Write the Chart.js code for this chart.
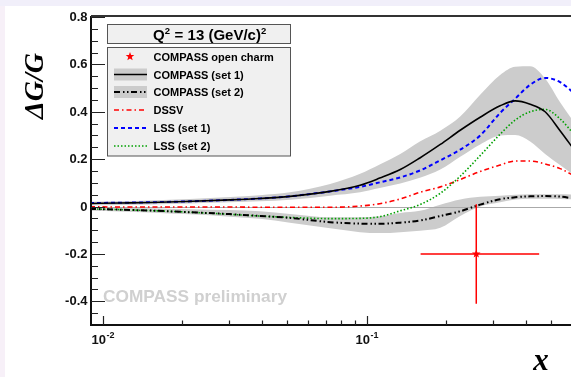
<!DOCTYPE html>
<html><head><meta charset="utf-8">
<script src="https://cdn.jsdelivr.net/npm/chart.js@4"></script>
<style>html,body{margin:0;padding:0;background:#fff;overflow:hidden}</style>
</head><body>
<canvas id="c" width="571" height="377"></canvas>
<script>
// ---- data ----
const xs = [0.00895,0.0116,0.0151,0.0214,0.0304,0.0394,0.0512,0.0727,0.0944,0.112,0.134,0.159,0.190,0.226,0.269,0.320,0.365,0.416,0.474,0.540,0.615];
const compassSet1      = [0.013,0.015,0.017,0.022,0.028,0.034,0.043,0.064,0.090,0.120,0.156,0.205,0.262,0.322,0.377,0.425,0.446,0.432,0.400,0.320,0.235];
const compassSet1Upper = [0.020,0.022,0.026,0.032,0.040,0.048,0.060,0.095,0.138,0.177,0.222,0.275,0.320,0.380,0.472,0.555,0.590,0.592,0.540,0.440,0.350];
const compassSet1Lower = [0.005,0.007,0.009,0.013,0.018,0.022,0.029,0.046,0.060,0.078,0.097,0.121,0.156,0.210,0.262,0.300,0.302,0.275,0.222,0.175,0.130];
const compassSet2      = [-0.010,-0.013,-0.017,-0.024,-0.032,-0.040,-0.048,-0.066,-0.072,-0.073,-0.068,-0.059,-0.040,-0.020,0.008,0.031,0.039,0.043,0.044,0.042,0.033];
const compassSet2Upper = [-0.003,-0.005,-0.007,-0.011,-0.015,-0.020,-0.031,-0.045,-0.045,-0.041,-0.027,-0.018,0.008,0.030,0.041,0.046,0.050,0.052,0.052,0.052,0.050];
const compassSet2Lower = [-0.018,-0.021,-0.025,-0.033,-0.043,-0.052,-0.068,-0.092,-0.108,-0.112,-0.108,-0.102,-0.090,-0.040,0.000,0.018,0.030,0.033,0.033,0.032,0.030];
const dssv = [-0.001,-0.002,-0.002,-0.002,-0.002,-0.003,-0.003,-0.003,0.002,0.012,0.032,0.060,0.083,0.114,0.148,0.175,0.192,0.192,0.180,0.160,0.128];
const lss1 = [0.015,0.016,0.018,0.022,0.028,0.034,0.043,0.064,0.083,0.102,0.123,0.152,0.195,0.240,0.300,0.395,0.455,0.514,0.543,0.525,0.475];
const lss2 = [-0.010,-0.013,-0.017,-0.024,-0.033,-0.040,-0.046,-0.051,-0.050,-0.043,-0.018,0.008,0.056,0.128,0.215,0.305,0.365,0.400,0.410,0.370,0.300];
// open charm point
const charmX = [0.26];
const charmY = [-0.20];
const charmXLow = [0.16];
const charmXHigh = [0.45];
const charmYErr = [0.21];
// axis labels
const yTickLabels = ['-0.4','-0.2','0','0.2','0.4','0.6','0.8'];
const xTickBase = '10';
const xTickExponents = ['-2','-1'];
const legendLabels = ['COMPASS open charm','COMPASS (set 1)','COMPASS (set 2)','DSSV','LSS (set 1)','LSS (set 2)'];
const legendTitle = ['Q','2',' = 13 (GeV/c)','2'];
const yTitle = 'ΔG/G';
const xTitle = 'x';
const watermark = 'COMPASS preliminary';

// ---- build chart ----
const pts = arr => xs.map((x,i)=>({x:x,y:arr[i]}));
const BAND = '#cccccc';
const styles = {
  set1:{borderColor:'#000000',borderWidth:1.6,borderDash:[]},
  set2:{borderColor:'#000000',borderWidth:2,borderDash:[6,3,1.5,2.5,1.5,2.5]},
  dssv:{borderColor:'#ff0000',borderWidth:1.6,borderDash:[5,3,1.5,3]},
  lss1:{borderColor:'#0000ff',borderWidth:2,borderDash:[4,3]},
  lss2:{borderColor:'#00a000',borderWidth:1.6,borderDash:[1.5,2]}
};
const base = {pointRadius:0,fill:false,cubicInterpolationMode:'monotone',parsing:false};
const datasets = [
  Object.assign({},base,{label:'b1lo',data:pts(compassSet1Lower),borderWidth:0,order:10}),
  Object.assign({},base,{label:'b1up',data:pts(compassSet1Upper),borderWidth:0,order:10,fill:0,backgroundColor:BAND}),
  Object.assign({},base,{label:'b2lo',data:pts(compassSet2Lower),borderWidth:0,order:10}),
  Object.assign({},base,{label:'b2up',data:pts(compassSet2Upper),borderWidth:0,order:10,fill:2,backgroundColor:BAND}),
  Object.assign({},base,styles.lss2,{label:'LSS2',data:pts(lss2),order:5}),
  Object.assign({},base,styles.lss1,{label:'LSS1',data:pts(lss1),order:5}),
  Object.assign({},base,styles.dssv,{label:'DSSV',data:pts(dssv),order:5}),
  Object.assign({},base,styles.set2,{label:'set2',data:pts(compassSet2),order:4}),
  Object.assign({},base,styles.set1,{label:'set1',data:pts(compassSet1),order:4})
];

const SANS = '"Liberation Sans", Arial, Helvetica, sans-serif';
const SERIF = '"Liberation Serif", "Times New Roman", serif';

function star(ctx,cx,cy,ro,ri,color){
  ctx.save();ctx.beginPath();
  for(let k=0;k<10;k++){
    const r = k%2===0?ro:ri;
    const a = -Math.PI/2 + k*Math.PI/5;
    const px=cx+r*Math.cos(a), py=cy+r*Math.sin(a);
    if(k===0)ctx.moveTo(px,py);else ctx.lineTo(px,py);
  }
  ctx.closePath();ctx.fillStyle=color;ctx.fill();ctx.restore();
}

const custom = {
  id:'custom',
  beforeDraw(chart){
    const ctx=chart.ctx;
    ctx.save();
    ctx.fillStyle='#ffffff';ctx.fillRect(0,0,chart.width,chart.height);
    ctx.fillStyle='#f7f0f8';ctx.fillRect(0,0,5,chart.height);
    ctx.fillStyle='#f1effa';ctx.fillRect(0,0,chart.width,6);
    // watermark
    ctx.fillStyle='#d0d0d0';ctx.font='bold 17.3px '+SANS;
    ctx.textAlign='left';ctx.textBaseline='alphabetic';
    ctx.fillText(watermark,103,302);
    ctx.restore();
  },
  afterDatasetDraw(chart,args){
    if(args.index!==0) return;
    const ctx=chart.ctx, a=chart.chartArea, ys=chart.scales.y;
    const y0=Math.round(ys.getPixelForValue(0))+0.5;
    ctx.save();ctx.strokeStyle='#aaaaaa';ctx.lineWidth=1;
    ctx.beginPath();ctx.moveTo(a.left,y0);ctx.lineTo(a.right,y0);ctx.stroke();ctx.restore();
  },
  afterDraw(chart){
    const ctx=chart.ctx, a=chart.chartArea, xsc=chart.scales.x, ysc=chart.scales.y;
    ctx.save();
    // open charm point with error bars
    for(let i=0;i<charmX.length;i++){
      const px=xsc.getPixelForValue(charmX[i]), py=ysc.getPixelForValue(charmY[i]);
      ctx.strokeStyle='#ff0000';ctx.lineWidth=1.5;
      ctx.beginPath();
      ctx.moveTo(xsc.getPixelForValue(charmXLow[i]),py);ctx.lineTo(xsc.getPixelForValue(charmXHigh[i]),py);
      ctx.moveTo(px,ysc.getPixelForValue(charmY[i]+charmYErr[i]));ctx.lineTo(px,ysc.getPixelForValue(charmY[i]-charmYErr[i]));
      ctx.stroke();
      star(ctx,px,py,4.5,1.9,'#ff0000');
    }
    // frame
    ctx.strokeStyle='#111';ctx.lineWidth=2;
    ctx.beginPath();
    ctx.moveTo(a.left,a.top-1);ctx.lineTo(a.left,a.bottom+1);
    ctx.moveTo(a.left-1,a.bottom);ctx.lineTo(a.right,a.bottom);
    ctx.stroke();
    ctx.strokeStyle='#333';ctx.lineWidth=2;
    ctx.beginPath();ctx.moveTo(a.left,a.top-1);ctx.lineTo(a.right,a.top-1);ctx.stroke();
    // y ticks
    ctx.strokeStyle='#222';ctx.lineWidth=1.2;
    ctx.beginPath();
    for(let k=-10;k<=16;k++){
      const v=k*0.05; const py=Math.round(ysc.getPixelForValue(v))+0.5;
      if(py<a.top-1||py>a.bottom) continue;
      const len=(k%4===0)?14:7;
      ctx.moveTo(a.left,py);ctx.lineTo(a.left+len,py);
    }
    // x ticks
    for(let e=-3;e<=0;e++){
      for(let m=1;m<=9;m++){
        const v=m*Math.pow(10,e);
        if(v<xsc.min*1.01||v>xsc.max) continue;
        const px=Math.round(xsc.getPixelForValue(v))+0.5;
        const len=(m===1)?9:4.5;
        ctx.moveTo(px,a.bottom);ctx.lineTo(px,a.bottom-len);
      }
    }
    ctx.stroke();
    // y tick labels
    ctx.fillStyle='#111';ctx.font='bold 13px '+SANS;ctx.textAlign='right';ctx.textBaseline='middle';
    yTickLabels.forEach(t=>{ctx.fillText(t,87.5,ysc.getPixelForValue(parseFloat(t))+0.5);});
    // x tick labels
    xTickExponents.forEach(ex=>{
      const px=xsc.getPixelForValue(Math.pow(10,parseFloat(ex)));
      ctx.font='bold 13px '+SANS; const w1=ctx.measureText(xTickBase).width;
      ctx.font='bold 9px '+SANS; const w2=ctx.measureText(ex).width;
      const x0=px-(w1+w2)/2;
      ctx.textAlign='left';ctx.textBaseline='alphabetic';
      ctx.font='bold 13px '+SANS;ctx.fillText(xTickBase,x0,344);
      ctx.font='bold 9px '+SANS;ctx.fillText(ex,x0+w1+0.5,338);
    });
    // axis titles
    ctx.save();ctx.translate(43,86);ctx.rotate(-Math.PI/2);
    ctx.font='bold italic 28px '+SERIF;ctx.textAlign='center';ctx.textBaseline='alphabetic';
    ctx.fillStyle='#000';ctx.fillText(yTitle,0,0);ctx.restore();
    ctx.font='bold italic 31px '+SERIF;ctx.textAlign='center';ctx.textBaseline='alphabetic';
    ctx.fillStyle='#000';ctx.fillText(xTitle,541,370);
    // legend title box
    ctx.fillStyle='#f0f0f0';ctx.strokeStyle='#555';ctx.lineWidth=1;
    ctx.fillRect(107.5,24.5,183,19);ctx.strokeRect(107.5,24.5,183,19);
    ctx.fillStyle='#000';ctx.textAlign='left';ctx.textBaseline='alphabetic';
    let tx=153;
    legendTitle.forEach((s,i)=>{
      const sup=(i%2===1);
      ctx.font='bold '+(sup?9.5:15)+'px '+SANS;
      ctx.fillText(s,tx,sup?33.5:39.5);
      tx+=ctx.measureText(s).width+(sup?0.5:0);
    });
    // legend box
    ctx.fillStyle='#f0f0f0';ctx.strokeStyle='#555';
    ctx.fillRect(107.5,47.5,183,108.5);ctx.strokeRect(107.5,47.5,183,108.5);
    const rows=[56.5,74.5,92,110,128,146];
    const lineStyles=[null,styles.set1,styles.set2,styles.dssv,styles.lss1,styles.lss2];
    legendLabels.forEach((lab,i)=>{
      const ry=rows[i];
      if(i===0){ star(ctx,130,ry,4.5,1.9,'#ff0000'); }
      else{
        if(i===1||i===2){ctx.fillStyle=BAND;ctx.fillRect(114,ry-6,33,12);}
        const st=lineStyles[i];
        ctx.save();ctx.strokeStyle=st.borderColor;ctx.lineWidth=st.borderWidth;ctx.setLineDash(st.borderDash);
        ctx.beginPath();ctx.moveTo(114,ry);ctx.lineTo(147,ry);ctx.stroke();ctx.restore();
      }
      ctx.fillStyle='#000';ctx.font='bold 11px '+SANS;ctx.textAlign='left';ctx.textBaseline='alphabetic';
      ctx.fillText(lab,153.5,ry+4);
    });
    ctx.restore();
  }
};

new Chart(document.getElementById('c'),{
  type:'line',
  data:{datasets:datasets},
  options:{
    responsive:false,animation:false,devicePixelRatio:1,
    layout:{padding:{left:91,top:17,right:0,bottom:52}},
    plugins:{legend:{display:false},tooltip:{enabled:false},filler:{propagate:false}},
    scales:{
      x:{type:'logarithmic',min:0.00903,max:0.594,display:false,bounds:'data'},
      y:{type:'linear',min:-0.5,max:0.8,display:false}
    }
  },
  plugins:[custom]
});
</script>
</body></html>
